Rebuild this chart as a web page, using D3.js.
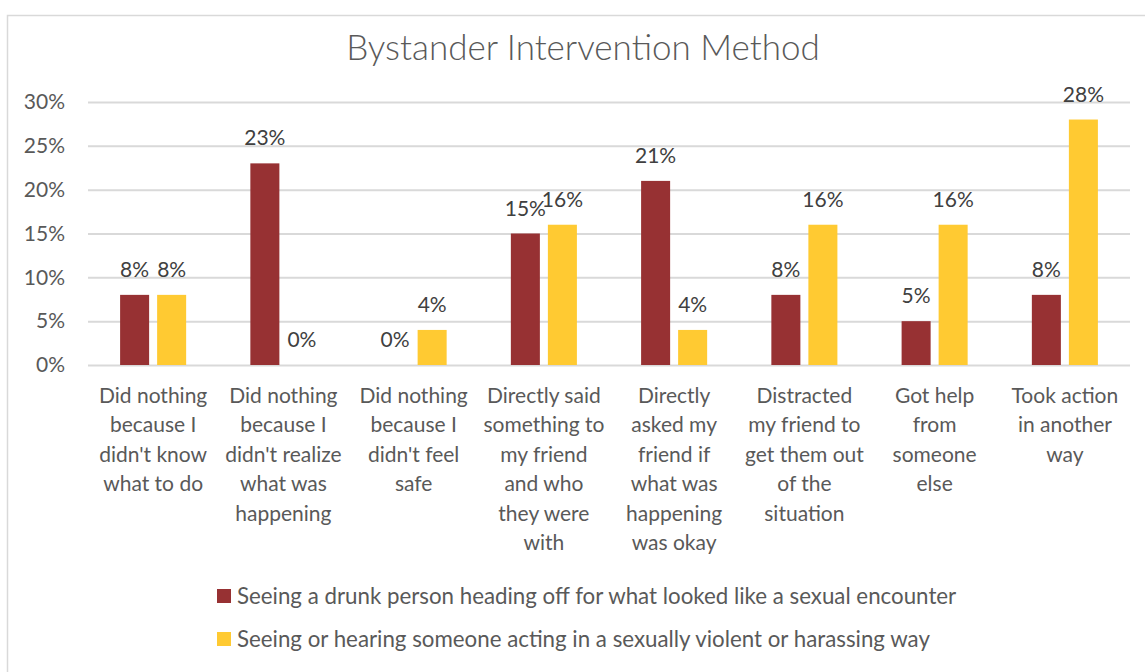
<!DOCTYPE html>
<html>
<head>
<meta charset="utf-8">
<script src="https://cdn.jsdelivr.net/npm/d3@7"></script>
<style>
  body { margin: 0; background: #fff; }
  text { font-family: Lato, "Open Sans", sans-serif; fill: #595959; }
</style>
</head>
<body>
<div id="chart"></div>
<script>
// Datos
const categories = [
    ["Did nothing", "because I", "didn't know", "what to do"],
    ["Did nothing", "because I", "didn't realize", "what was", "happening"],
    ["Did nothing", "because I", "didn't feel", "safe"],
    ["Directly said", "something to", "my friend", "and who", "they were", "with"],
    ["Directly", "asked my", "friend if", "what was", "happening", "was okay"],
    ["Distracted", "my friend to", "get them out", "of the", "situation"],
    ["Got help", "from", "someone", "else"],
    ["Took action", "in another", "way"]
];
const seriesNames = [
    "Seeing a drunk person heading off for what looked like a sexual encounter",
    "Seeing or hearing someone acting in a sexually violent or harassing way"
];
const drunkValues = [8, 23, 0, 15, 21, 8, 5, 8];
const violentValues = [8, 0, 4, 16, 4, 16, 16, 28];
const yTicks = [0, 5, 10, 15, 20, 25, 30];

const COLOR_RED = '#973133',
    COLOR_YELLOW = '#FFCA32';

const W = 1145, H = 672;
let margin = {top: 102, left: 88, right: 15, bottom: 307};
let width = W - margin.left - margin.right,
    height = H - margin.top - margin.bottom;

let root = d3.select('#chart').append('svg')
    .attr('width', W).attr('height', H);

//Marco
root.append('rect')
    .attr('x', 7.5).attr('y', 15.5)
    .attr('width', W + 10).attr('height', H + 10)
    .attr('fill', '#fff')
    .attr('stroke', '#D9D9D9')
    .attr('stroke-width', 1.5);

//Título
root.append('text')
    .attr('x', 583).attr('y', 60)
    .attr('text-anchor', 'middle')
    .style('font-size', '35px')
    .style('font-weight', 300)
    .text('Bystander Intervention Method');

let svg = root.append('g')
    .attr('transform', 'translate(' + margin.left + ',' + margin.top + ')');

let ids = categories.map(function(d, i) { return i; });

let x0 = d3.scaleBand()
    .domain(ids)
    .range([0, width])
    .paddingInner(0.493)
    .paddingOuter(0.2465);

let x1 = d3.scaleBand()
    .domain([0, 1])
    .range([0, x0.bandwidth()])
    .paddingInner(0.2162);

let y = d3.scaleLinear()
    .domain([0, 30])
    .range([height, 0]);

//Eje Y
svg.append('g')
    .call(d3.axisLeft(y).tickValues(yTicks).tickSize(-width).tickPadding(23).tickFormat(function(d) { return d + '%'; }))
    .call(function(g) { g.select('.domain').remove(); })
    .call(function(g) {
        g.selectAll('.tick line').attr('stroke', '#D9D9D9').attr('stroke-width', 2);
        g.selectAll('.tick text').style('font-size', '21px').attr('fill', '#595959').style('font-family', 'Lato, sans-serif');
    });

//Barras
let series = [drunkValues, violentValues];
let colors = [COLOR_RED, COLOR_YELLOW];

series.forEach(function(values, s) {
    let g = svg.append('g');
    g.selectAll('rect')
        .data(values)
        .enter()
        .append('rect')
        .attr('x', function(d, i) { return x0(i) + x1(s); })
        .attr('y', function(d) { return y(d); })
        .attr('width', x1.bandwidth())
        .attr('height', function(d) { return height - y(d); })
        .attr('fill', colors[s]);

    g.selectAll('text')
        .data(values)
        .enter()
        .append('text')
        .attr('x', function(d, i) { return x0(i) + x1(s) + x1.bandwidth() / 2; })
        .attr('y', function(d) { return y(d) - 18; })
        .attr('text-anchor', 'middle')
        .style('font-size', '21px')
        .style('fill', '#404040')
        .text(function(d) { return d + '%'; });
});

//Etiquetas de categorías
let cat = svg.append('g')
    .selectAll('g')
    .data(categories)
    .enter()
    .append('text')
    .attr('text-anchor', 'middle')
    .style('font-size', '21px')
    .attr('transform', function(d, i) { return 'translate(' + (x0(i) + x0.bandwidth() / 2) + ',' + (height + 38) + ')'; });

cat.selectAll('tspan')
    .data(function(d) { return d; })
    .enter()
    .append('tspan')
    .attr('x', 0)
    .attr('y', function(d, i) { return i * 29.4; })
    .text(function(d) { return d; });

//Leyenda
let legend = root.append('g')
    .selectAll('g')
    .data(seriesNames)
    .enter()
    .append('g')
    .attr('transform', function(d, i) { return 'translate(217,' + (589 + i * 43) + ')'; });

legend.append('rect')
    .attr('width', 14).attr('height', 14)
    .attr('fill', function(d, i) { return colors[i]; });

legend.append('text')
    .attr('x', 20).attr('y', 15)
    .style('font-size', '22.3px')
    .text(function(d) { return d; });
</script>
</body>
</html>
